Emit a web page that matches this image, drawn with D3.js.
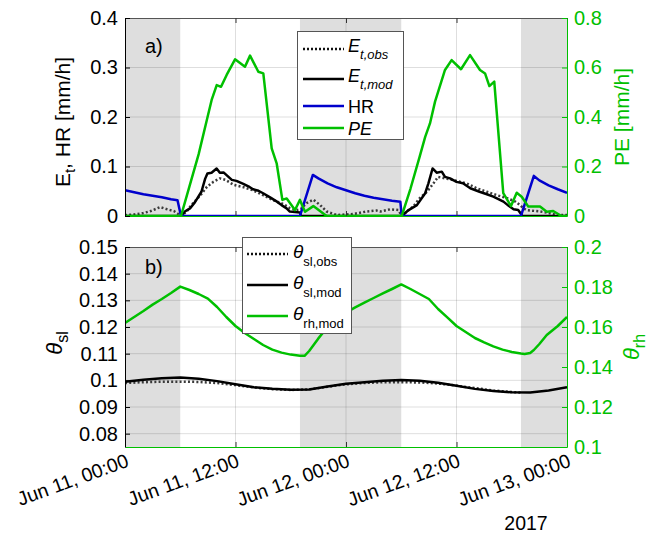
<!DOCTYPE html>
<html><head><meta charset="utf-8">
<script src="https://cdn.jsdelivr.net/npm/d3@7"></script>
<style>
body{margin:0;background:#fff}
text{font-family:"Liberation Sans",Arial,Helvetica,sans-serif}
</style>
</head><body>
<svg id="chart" width="651" height="539"></svg>
<script>
// ---------------- DATA (hours after Jun 11 2017 00:00) ----------------
const startTime = new Date(2017, 5, 11, 0, 0);
const xTickHours = [0, 12, 24, 36, 48];
const nightPeriods = [[0, 6], [19, 30], [43, 48]];

const topLeftTicks = [0, 0.1, 0.2, 0.3, 0.4];
const topRightTicks = [0, 0.2, 0.4, 0.6, 0.8];
const botLeftTicks = [0.08, 0.09, 0.1, 0.11, 0.12, 0.13, 0.14, 0.15];
const botRightTicks = [0.1, 0.12, 0.14, 0.16, 0.18, 0.2];

// [hour, value]
const etObs = [[0,0.002],[1,0.003],[2,0.006],[2.8,0.010],[3.8,0.018],[4.5,0.014],[5.3,0.010],[5.8,0.004],[6.1,0],
 [6.7,0.009],[7.2,0.022],[8.2,0.042],[8.9,0.059],[9.6,0.069],[10.3,0.076],[10.9,0.073],[11.8,0.063],[12.9,0.058],
 [13.9,0.052],[15.0,0.042],[16.1,0.032],[17.2,0.024],[17.9,0.016],[18.6,0.012],[19.1,0.014],[19.7,0.026],[20.45,0.033],
 [21.2,0.022],[21.9,0.009],[23.0,0.002],[24.8,0.004],[26.2,0.009],[27.3,0.011],[27.7,0.009],[28.8,0.0135],[29.7,0.012],[30.05,0],
 [30.6,0.009],[31.3,0.019],[32.0,0.036],[32.8,0.049],[33.5,0.066],[34.0,0.079],[34.75,0.076],[35.5,0.073],[36.4,0.069],
 [37.1,0.066],[38.2,0.056],[39.3,0.049],[40.4,0.042],[41.5,0.036],[42.4,0.029],[42.9,0.022],[43.3,0.015],[43.6,0.012],
 [45.1,0.009],[45.8,0.007],[46.5,0.004],[47.4,0.002],[48,0.002]];

const etMod = [[0,0],[6.1,0],[6.5,0.009],[7.1,0.016],[7.6,0.028],[8.3,0.049],[8.7,0.075],[8.95,0.086],[9.4,0.0875],
 [9.95,0.096],[10.3,0.0875],[10.7,0.088],[11.0,0.083],[11.6,0.073],[12.1,0.071],[12.85,0.065],[13.4,0.060],[13.9,0.054],
 [14.5,0.051],[15.0,0.046],[15.8,0.037],[16.5,0.029],[17.0,0.022],[17.55,0.0155],[17.9,0.009],[19.0,0.007],[19.1,0],
 [30.05,0],[30.8,0.012],[31.7,0.022],[32.6,0.046],[32.95,0.066],[33.4,0.096],[33.85,0.0875],[34.4,0.0896],[34.75,0.079],
 [35.3,0.076],[36.0,0.069],[36.7,0.066],[37.5,0.056],[38.5,0.049],[39.3,0.044],[40.0,0.039],[41.1,0.029],[41.7,0.020],
 [42.2,0.0135],[42.7,0.012],[43.08,0.002],[43.1,0],[48,0]];

const hr = [[0,0.052],[1,0.048],[2,0.044],[3,0.041],[4,0.038],[5,0.034],[5.7,0.032],[6.08,0],[19.0,0],[20.4,0.083],
 [21,0.076],[22,0.066],[23,0.058],[24,0.052],[25,0.046],[26,0.041],[27,0.037],[28,0.034],[29,0.031],[29.9,0.029],[30.05,0],
 [43.0,0],[44.4,0.081],[45,0.072],[46,0.062],[47,0.054],[48,0.047]];

const pe = [[0,0],[6.08,0],[7,0.12],[8,0.25],[8.9,0.39],[9.41,0.469],[9.96,0.529],[10.43,0.522],[11.04,0.570],[11.95,0.633],
 [13.03,0.603],[13.58,0.648],[14.48,0.583],[15.02,0.576],[15.93,0.273],[16.47,0.213],[17.09,0.065],[17.56,0.071],
 [18.46,0.024],[19.0,0.065],[19.55,0.017],[20.45,0.040],[21.9,0],[30.05,0],[31,0.11],[32,0.24],[32.6,0.32],[33.12,0.374],
 [33.67,0.462],[34.75,0.590],[35.47,0.630],[36.49,0.593],[37.47,0.650],[38.55,0.590],[39.1,0.576],[39.57,0.525],
 [40.1,0.543],[41.08,0.092],[41.92,0.04],[42.54,0.094],[43.08,0.078],[43.8,0.038],[45.07,0.038],[45.8,0.017],
 [46.5,0.020],[47.4,0],[48,0]];

const thetaSlObs = [[0,0.0990],[2,0.0993],[4,0.0995],[6,0.0995],[8,0.0994],[10,0.0990],[12,0.0982],[14,0.0973],
 [16,0.0967],[18,0.0964],[20,0.0966],[22,0.0976],[24,0.0985],[26,0.0990],[28,0.0993],[30,0.0993],[32,0.0992],
 [34,0.0988],[36,0.0980],[38,0.0971],[40,0.0962],[42,0.0956],[43,0.0954]];

const thetaSlMod = [[0,0.0995],[2,0.1002],[4,0.1008],[6,0.1011],[8,0.1006],[10,0.0997],[12,0.0985],[14,0.0974],
 [16,0.0968],[18,0.0965],[20,0.0966],[22,0.0977],[24,0.0987],[26,0.0993],[28,0.0998],[30,0.1001],[32,0.0998],
 [34,0.0991],[36,0.0980],[38,0.0968],[40,0.0960],[42,0.0955],[44,0.0954],[46,0.0962],[48,0.0974]];

const thetaRhMod = [[0,0.162],[1,0.165],[2,0.168],[3,0.1712],[4,0.174],[5,0.177],[6,0.1802],[7,0.1785],[8,0.1765],
 [9,0.1742],[10,0.170],[11,0.165],[12,0.1605],[13,0.157],[14,0.154],[15,0.151],[16,0.1487],[17,0.1472],[18,0.1462],
 [19,0.1456],[19.5,0.1456],[20,0.148],[21,0.1543],[22,0.160],[23,0.1643],[24,0.1672],[25,0.1698],[26,0.1722],
 [27,0.1745],[28,0.1768],[29,0.179],[30,0.1813],[31,0.179],[32,0.1765],[33,0.174],[34,0.169],[35,0.1648],[36,0.1605],
 [37,0.1575],[38,0.1545],[39,0.1523],[40,0.1503],[41,0.1487],[42,0.1475],[43,0.1467],[43.4,0.1465],[44,0.147],
 [44.4,0.1485],[45,0.1515],[45.8,0.156],[47,0.1605],[48,0.165]];

// ---------------- STYLE / LAYOUT ----------------
const GREEN = "#00c000", BLUE = "#0000cc", SHADE = "#dedede";
const FONT = 20, LABEL = 21;
const L = 125, R = 567;
const panelA = {top: 18, bottom: 216};
const panelB = {top: 247, bottom: 447};

const svg = d3.select("#chart");
svg.append("rect").attr("width", 651).attr("height", 539).attr("fill", "#fff");

const toDate = h => new Date(+startTime + h * 3600e3);
const x = d3.scaleTime().domain([toDate(0), toDate(48)]).range([L, R]);
const yA = d3.scaleLinear([0, 0.4], [panelA.bottom, panelA.top]);
const yA2 = d3.scaleLinear([0, 0.8], [panelA.bottom, panelA.top]);
const yB = d3.scaleLinear([0.075, 0.15], [panelB.bottom, panelB.top]);
const yB2 = d3.scaleLinear([0.1, 0.2], [panelB.bottom, panelB.top]);

const defs = svg.append("defs");
[["clipA", panelA], ["clipB", panelB]].forEach(([id, p]) => {
  defs.append("clipPath").attr("id", id).append("rect")
    .attr("x", L).attr("y", p.top).attr("width", R - L).attr("height", p.bottom - p.top);
});

function panelBase(p, yLeft, leftTicks) {
  const g = svg.append("g");
  g.selectAll("rect.night").data(nightPeriods).join("rect")
    .attr("x", d => x(toDate(d[0]))).attr("width", d => x(toDate(d[1])) - x(toDate(d[0])))
    .attr("y", p.top).attr("height", p.bottom - p.top).attr("fill", SHADE);
  g.selectAll("line.vg").data(xTickHours.slice(1, -1)).join("line")
    .attr("x1", d => x(toDate(d))).attr("x2", d => x(toDate(d)))
    .attr("y1", p.top).attr("y2", p.bottom).attr("stroke", "#000").attr("stroke-opacity", 0.13);
  g.selectAll("line.hg").data(leftTicks.filter(v => yLeft(v) > p.top + 1 && yLeft(v) < p.bottom - 1)).join("line")
    .attr("x1", L).attr("x2", R).attr("y1", d => yLeft(d)).attr("y2", d => yLeft(d))
    .attr("stroke", "#000").attr("stroke-opacity", 0.13);
  return g;
}

function styleAxis(g, color) {
  g.attr("font-size", FONT).attr("font-family", null);
  g.selectAll("text").attr("fill", color);
  g.selectAll("line").attr("stroke", color);
  g.select(".domain").attr("stroke", color);
}

function drawAxes(p, yLeft, yRight, leftTicks, rightTicks, withLabels) {
  const dates = xTickHours.map(toDate);
  svg.append("line").attr("x1", L).attr("x2", R).attr("y1", p.top + 0.5).attr("y2", p.top + 0.5)
    .attr("stroke", "#555").attr("stroke-width", 1);
  svg.append("g").attr("transform", `translate(0,${p.top})`)
    .call(d3.axisTop(x).tickValues(dates).tickSize(-5).tickSizeOuter(0).tickFormat(""))
    .call(g => { g.select(".domain").remove(); g.selectAll("line").attr("stroke", "#333"); });
  const gb = svg.append("g").attr("transform", `translate(0,${p.bottom})`)
    .call(d3.axisBottom(x).tickValues(dates).tickSize(-5).tickSizeOuter(0).tickFormat(""));
  gb.selectAll("line").attr("stroke", "#333");
  gb.select(".domain").attr("stroke", GREEN).attr("stroke-width", 1.2);
  const gl = svg.append("g").attr("transform", `translate(${L},0)`)
    .call(d3.axisLeft(yLeft).tickValues(leftTicks).tickSize(-5).tickSizeOuter(0).tickPadding(7).tickFormat(d3.format("")));
  styleAxis(gl, "#000");
  const gr = svg.append("g").attr("transform", `translate(${R},0)`)
    .call(d3.axisRight(yRight).tickValues(rightTicks).tickSize(-5).tickSizeOuter(0).tickPadding(7).tickFormat(d3.format("")));
  styleAxis(gr, GREEN);
  if (withLabels) {
    const fmt = d3.timeFormat("%b %d, %H:%M");
    svg.append("g").selectAll("text").data(dates).join("text")
      .attr("transform", d => `translate(${x(d) + 5},${p.bottom + 19}) rotate(-20)`)
      .attr("text-anchor", "end").attr("font-size", FONT - 0.5).attr("fill", "#000")
      .text(d => fmt(d));
  }
}

const line = (yS) => d3.line().x(d => x(toDate(d[0]))).y(d => yS(d[1]));

// ---------- Panel A ----------
panelBase(panelA, yA, topLeftTicks);
const gA = svg.append("g").attr("clip-path", "url(#clipA)").attr("fill", "none").attr("stroke-linejoin", "round");
gA.append("path").attr("d", line(yA)(etObs)).attr("stroke", "#3a3a3a").attr("stroke-width", 2.5).attr("stroke-dasharray", "2,2.2");
gA.append("path").attr("d", line(yA)(etMod)).attr("stroke", "#000").attr("stroke-width", 2.5);
gA.append("path").attr("d", line(yA)(hr)).attr("stroke", BLUE).attr("stroke-width", 2.5);
gA.append("path").attr("d", line(yA2)(pe)).attr("stroke", GREEN).attr("stroke-width", 2.5);
drawAxes(panelA, yA, yA2, topLeftTicks, topRightTicks, false);

// ---------- Panel B ----------
panelBase(panelB, yB, botLeftTicks);
const gB = svg.append("g").attr("clip-path", "url(#clipB)").attr("fill", "none").attr("stroke-linejoin", "round");
gB.append("path").attr("d", line(yB)(thetaSlObs)).attr("stroke", "#3a3a3a").attr("stroke-width", 2.5).attr("stroke-dasharray", "2,2.2");
gB.append("path").attr("d", line(yB)(thetaSlMod)).attr("stroke", "#000").attr("stroke-width", 2.5);
gB.append("path").attr("d", line(yB2)(thetaRhMod)).attr("stroke", GREEN).attr("stroke-width", 2.5);
drawAxes(panelB, yB, yB2, botLeftTicks, botRightTicks, true);

// year label
svg.append("text").attr("x", 526).attr("y", 530).attr("text-anchor", "middle").attr("font-size", FONT - 0.5).text("2017");

// panel letters
svg.append("text").attr("x", 145).attr("y", 53).attr("font-size", 20).text("a)");
svg.append("text").attr("x", 145).attr("y", 274).attr("font-size", 20).text("b)");

// axis labels
const lblA = svg.append("text").attr("transform", "translate(70,122) rotate(-90)").attr("text-anchor", "middle").attr("font-size", LABEL);
lblA.append("tspan").text("E");
lblA.append("tspan").attr("dy", 5).attr("font-size", 15).text("t");
lblA.append("tspan").attr("dy", -5).text(", HR [mm/h]");
svg.append("text").attr("transform", "translate(629,117) rotate(-90)").attr("text-anchor", "middle")
  .attr("font-size", LABEL).attr("fill", GREEN).text("PE [mm/h]");
const lblB = svg.append("text").attr("transform", "translate(62,343) rotate(-90)").attr("text-anchor", "middle").attr("font-size", LABEL + 1);
lblB.append("tspan").attr("font-style", "italic").text("θ");
lblB.append("tspan").attr("dy", 6).attr("font-size", 16).text("sl");
const lblB2 = svg.append("text").attr("transform", "translate(639,347) rotate(-90)").attr("text-anchor", "middle").attr("font-size", LABEL + 1).attr("fill", GREEN);
lblB2.append("tspan").attr("font-style", "italic").text("θ");
lblB2.append("tspan").attr("dy", 6).attr("font-size", 16).text("rh");

// ---------- Legends ----------
function legend(box, items) {
  const g = svg.append("g");
  g.append("rect").attr("x", box.x).attr("y", box.y).attr("width", box.w).attr("height", box.h)
    .attr("fill", "#fff").attr("stroke", "#555").attr("stroke-width", 1);
  items.forEach(it => {
    g.append("line").attr("x1", box.lx1).attr("x2", box.lx2).attr("y1", it.y).attr("y2", it.y)
      .attr("stroke", it.color).attr("stroke-width", 2.5).attr("stroke-dasharray", it.dash || null);
    const t = g.append("text").attr("x", box.tx).attr("font-size", it.size || 18).attr("fill", "#000");
    if (it.sub) {
      t.attr("y", it.y + it.mainDy);
      t.append("tspan").attr("font-style", it.mainItalic ? "italic" : null).text(it.main);
      t.append("tspan").attr("dy", it.subDy).attr("font-size", 13).attr("font-style", it.subItalic ? "italic" : null).text(it.sub);
    } else {
      t.attr("y", it.y + 6.5).attr("font-style", it.mainItalic ? "italic" : null).text(it.main);
    }
  });
}
legend({x: 297.5, y: 31.5, w: 106, h: 108, lx1: 303, lx2: 344, tx: 348}, [
  {y: 49, color: "#111", dash: "2,2", main: "E", mainItalic: true, sub: "t,obs", subItalic: true, mainDy: 2.5, subDy: 7},
  {y: 79, color: "#000", main: "E", mainItalic: true, sub: "t,mod", subItalic: true, mainDy: 2.5, subDy: 7},
  {y: 106, color: BLUE, main: "HR"},
  {y: 128, color: GREEN, main: "PE", mainItalic: true}
]);
legend({x: 242.5, y: 237.5, w: 109, h: 96, lx1: 247, lx2: 288, tx: 293}, [
  {y: 254, color: "#111", dash: "2,2", main: "θ", mainItalic: true, sub: "sl,obs", mainDy: 4, subDy: 8, size: 19},
  {y: 285, color: "#000", main: "θ", mainItalic: true, sub: "sl,mod", mainDy: 4, subDy: 8, size: 19},
  {y: 316, color: GREEN, main: "θ", mainItalic: true, sub: "rh,mod", mainDy: 4, subDy: 8, size: 19}
]);
</script>
</body></html>
